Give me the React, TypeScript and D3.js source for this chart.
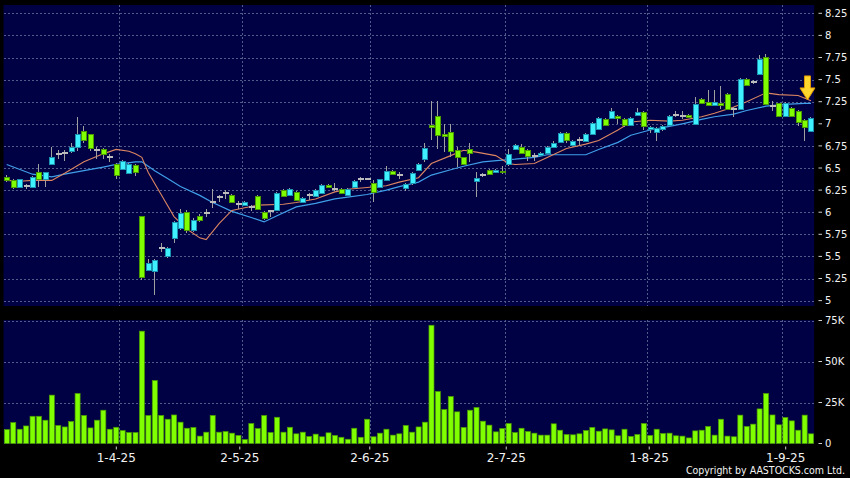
import React from "react";
import * as d3 from "d3";

// daily candles, 6 Mar 2025 .. 5 Sep 2025 (126 sessions)
const opens = [
  6.40, 6.36, 6.29, 6.30, 6.29, 6.45, 6.37, 6.55, 6.66, 6.67, 6.69, 6.74, 6.92, 6.88, 6.70, 6.72, 6.62, 6.55, 6.49, 6.44,
  6.53, 5.96, 5.35, 5.34, 5.60, 5.51, 5.71, 5.82, 6.00, 5.80, 5.96, 5.99, 6.11, 6.17, 6.22, 6.20, 6.09, 6.08, 6.06, 6.18,
  6.00, 6.01, 6.03, 6.25, 6.19, 6.23, 6.12, 6.19, 6.18, 6.22, 6.31, 6.26, 6.26, 6.19, 6.29, 6.38, 6.38, 6.33, 6.28, 6.36,
  6.47, 6.42, 6.27, 6.33, 6.48, 6.60, 6.99, 7.09, 6.88, 6.91, 6.70, 6.62, 6.72, 6.35, 6.42, 6.48, 6.45, 6.47, 6.54, 6.72,
  6.74, 6.70, 6.64, 6.65, 6.67, 6.74, 6.79, 6.90, 6.76, 6.82, 6.81, 6.89, 6.94, 7.05, 7.07, 7.09, 7.05, 6.99, 7.10, 7.13,
  6.94, 6.91, 6.94, 6.99, 7.10, 7.09, 7.10, 7.00, 7.28, 7.25, 7.21, 7.23, 7.34, 7.17, 7.17, 7.51, 7.47, 7.56, 7.76, 7.20,
  7.23, 7.09, 7.18, 7.15, 7.04, 6.92,
];
const highs = [
  6.42, 6.38, 6.38, 6.32, 6.41, 6.55, 6.46, 6.74, 6.70, 6.70, 6.78, 7.08, 6.98, 6.89, 6.74, 6.73, 6.66, 6.56, 6.59, 6.56,
  6.54, 5.96, 5.47, 5.47, 5.65, 5.61, 5.90, 6.04, 6.03, 5.93, 5.98, 6.04, 6.26, 6.20, 6.25, 6.21, 6.13, 6.13, 6.08, 6.19,
  6.01, 6.02, 6.23, 6.26, 6.27, 6.24, 6.17, 6.22, 6.26, 6.32, 6.32, 6.33, 6.27, 6.27, 6.36, 6.40, 6.39, 6.36, 6.38, 6.52,
  6.48, 6.46, 6.33, 6.45, 6.56, 6.78, 7.26, 7.26, 7.00, 7.00, 6.74, 6.63, 6.78, 6.46, 6.44, 6.49, 6.49, 6.52, 6.71, 6.77,
  6.77, 6.71, 6.67, 6.68, 6.75, 6.80, 6.91, 6.91, 6.82, 6.85, 6.90, 7.02, 7.08, 7.06, 7.18, 7.10, 7.06, 7.08, 7.18, 7.14,
  6.97, 6.96, 6.99, 7.10, 7.15, 7.15, 7.11, 7.30, 7.29, 7.38, 7.38, 7.43, 7.35, 7.19, 7.52, 7.52, 7.49, 7.78, 7.79, 7.26,
  7.24, 7.25, 7.19, 7.16, 7.05, 7.08,
];
const lows = [
  6.34, 6.26, 6.27, 6.26, 6.28, 6.29, 6.29, 6.54, 6.60, 6.58, 6.67, 6.69, 6.78, 6.69, 6.60, 6.60, 6.57, 6.38, 6.48, 6.43,
  6.41, 5.23, 5.33, 5.06, 5.55, 5.48, 5.65, 5.80, 5.76, 5.78, 5.89, 5.95, 6.05, 6.12, 6.15, 6.10, 6.04, 6.07, 6.01, 6.03,
  5.91, 5.95, 6.02, 6.17, 6.18, 6.13, 6.11, 6.14, 6.17, 6.21, 6.28, 6.24, 6.21, 6.18, 6.28, 6.34, 6.36, 6.11, 6.27, 6.35,
  6.42, 6.38, 6.24, 6.31, 6.47, 6.57, 6.82, 6.72, 6.68, 6.62, 6.51, 6.53, 6.57, 6.17, 6.40, 6.42, 6.44, 6.43, 6.52, 6.71,
  6.66, 6.58, 6.58, 6.64, 6.66, 6.73, 6.78, 6.78, 6.75, 6.76, 6.80, 6.88, 6.93, 6.98, 7.06, 7.00, 6.96, 6.98, 7.09, 6.93,
  6.90, 6.80, 6.92, 6.98, 7.08, 7.05, 7.06, 6.99, 7.22, 7.20, 7.20, 7.17, 7.16, 7.08, 7.16, 7.43, 7.45, 7.55, 7.21, 7.14,
  7.08, 7.08, 7.08, 6.98, 6.81, 6.91,
];
const closes = [
  6.36, 6.28, 6.37, 6.30, 6.40, 6.37, 6.45, 6.62, 6.66, 6.67, 6.74, 6.88, 6.82, 6.73, 6.70, 6.66, 6.62, 6.42, 6.58, 6.55,
  6.46, 5.27, 5.43, 5.46, 5.60, 5.59, 5.89, 5.99, 5.80, 5.91, 5.91, 5.99, 6.11, 6.17, 6.22, 6.11, 6.09, 6.12, 6.06, 6.04,
  5.94, 6.01, 6.22, 6.18, 6.26, 6.14, 6.16, 6.19, 6.25, 6.31, 6.29, 6.26, 6.22, 6.26, 6.35, 6.38, 6.38, 6.23, 6.37, 6.47,
  6.43, 6.42, 6.32, 6.44, 6.55, 6.73, 6.96, 6.87, 6.86, 6.69, 6.62, 6.55, 6.67, 6.39, 6.42, 6.43, 6.48, 6.45, 6.66, 6.76,
  6.67, 6.64, 6.64, 6.67, 6.74, 6.78, 6.90, 6.82, 6.81, 6.82, 6.89, 7.01, 7.07, 6.99, 7.14, 7.06, 6.99, 7.07, 7.13, 6.98,
  6.96, 6.95, 6.98, 7.09, 7.10, 7.09, 7.08, 7.22, 7.23, 7.21, 7.25, 7.21, 7.17, 7.17, 7.51, 7.44, 7.47, 7.73, 7.22, 7.20,
  7.09, 7.24, 7.09, 7.02, 6.96, 7.07,
];
// volume, thousands of shares
const volumesK = [
  8.5, 12.8, 8.7, 10.7, 16.6, 16.6, 14.2, 29.5, 11.0, 10.1, 13.4, 30.5, 17.1, 9.5, 14.2, 20.3, 8.7, 9.9, 7.9, 6.7,
  6.7, 68.5, 17.1, 38.4, 17.1, 14.8, 17.4, 13.0, 9.3, 9.8, 4.5, 6.9, 17.1, 6.9, 7.3, 6.3, 4.9, 2.4, 12.2, 9.1,
  17.1, 6.7, 16.0, 6.9, 9.9, 5.9, 6.9, 4.3, 5.7, 4.1, 6.5, 4.9, 3.8, 2.6, 9.3, 3.8, 14.8, 4.1, 6.3, 8.7,
  5.1, 5.9, 11.0, 6.9, 10.1, 13.0, 72.1, 31.7, 20.7, 28.7, 19.3, 9.8, 20.3, 22.0, 13.6, 11.2, 7.1, 9.1, 12.2, 6.7,
  9.3, 7.3, 6.3, 5.1, 5.1, 12.0, 8.1, 5.5, 5.3, 5.9, 7.9, 9.8, 7.5, 8.9, 8.3, 4.7, 8.7, 4.3, 5.5, 12.2,
  4.9, 8.7, 6.1, 6.3, 4.7, 4.5, 3.4, 7.7, 8.1, 10.4, 5.1, 14.8, 4.5, 4.1, 17.3, 10.4, 11.8, 21.1, 30.5, 17.4,
  11.4, 15.9, 13.8, 8.1, 17.3, 5.9,
];
// moving averages: [session index, price]
const maShort: [number, number][] = [
  [0, 6.36], [2, 6.35], [4, 6.36], [7, 6.36], [9, 6.44], [12, 6.57], [15, 6.66], [17, 6.71], [19, 6.69], [20, 6.66],
  [21, 6.62], [22, 6.45], [24, 6.2], [26, 5.95], [28, 5.81], [30, 5.71], [31, 5.69], [33, 5.87], [35, 6.02], [37, 6.05],
  [39, 6.08], [43, 6.09], [45, 6.11], [48, 6.15], [51, 6.23], [53, 6.26], [56, 6.28], [59, 6.3], [61, 6.34], [64, 6.39],
  [66, 6.55], [69, 6.64], [71, 6.7], [73, 6.68], [76, 6.64], [78, 6.55], [79, 6.54], [82, 6.55], [84, 6.62], [87, 6.72],
  [90, 6.77], [92, 6.81], [95, 6.93], [97, 7.02], [100, 7.04], [103, 7.03], [105, 7.04], [108, 7.08], [110, 7.12],
  [113, 7.19], [115, 7.25], [118, 7.35], [120, 7.33], [123, 7.32], [125, 7.26],
];
const maLong: [number, number][] = [
  [0, 6.54], [4, 6.43], [7, 6.4], [9, 6.43], [12, 6.47], [15, 6.51], [17, 6.54], [20, 6.57], [21, 6.57], [23, 6.47],
  [25, 6.38], [27, 6.29], [30, 6.19], [32, 6.11], [35, 6.01], [38, 5.94], [40, 5.89], [42, 5.96], [45, 6.06], [48, 6.1],
  [51, 6.15], [53, 6.17], [56, 6.2], [59, 6.25], [61, 6.29], [64, 6.34], [66, 6.42], [69, 6.48], [71, 6.52], [74, 6.57],
  [77, 6.59], [79, 6.6], [82, 6.62], [84, 6.65], [87, 6.65], [90, 6.65], [92, 6.71], [95, 6.79], [97, 6.87], [100, 6.93],
  [103, 6.97], [105, 7.0], [108, 7.05], [110, 7.08], [113, 7.11], [115, 7.15], [118, 7.2], [121, 7.22], [124, 7.23],
  [125, 7.23],
];

const priceTicks = [8.25, 8, 7.75, 7.5, 7.25, 7, 6.75, 6.5, 6.25, 6, 5.75, 5.5, 5.25, 5];
const volTicks = [0, 25, 50, 75];
const monthStarts = [18, 37, 57, 78, 100, 121];
const monthLabels = ["1-4-25", "2-5-25", "2-6-25", "2-7-25", "1-8-25", "1-9-25"];
const arrowPrice = 7.27;

const W = 850;
const H = 478;
const PLOT = { left: 3.5, right: 814.2 };
const PRICE = { top: 5, bottom: 306 };
const VOL = { top: 320, bottom: 444 };

const NAVY = "#000044";
const GRID = "#505c8a";
const UP = { fill: "#3ff0ff", stroke: "#1a92b0" };
const DOWN = { fill: "#80ff00", stroke: "#4a9a00" };
const DOJI = "#bcbcbc";
const WICK = "#a0a0a0";

export default function App() {
  const n = opens.length;
  const x = d3.scaleBand<number>().domain(d3.range(n)).range([PLOT.left, PLOT.right]).padding(0);
  const bw = x.bandwidth();
  const cx = (i: number) => x(i)! + bw / 2;

  const y = d3.scaleLinear().domain([5, 8.25]).range([300.6, 13.3]);
  const yv = d3.scaleLinear().domain([0, 75]).range([443.5, 320.5]);
  // the date ticks drift a little against the grid in the original
  const tickX = d3.scaleLinear().domain([monthStarts[0], monthStarts[monthStarts.length - 1]]).range([116.3, 785.7]);

  const line = d3
    .line<[number, number]>()
    .x((d) => cx(d[0]))
    .y((d) => y(d[1]));

  const axisText = { fill: "#f2f2f2", fontFamily: "DejaVu Sans, Verdana, sans-serif" };

  // arrow above the last session
  const ax = cx(n - 1) - 3.5;
  const tip = y(arrowPrice);
  const arrowPath = d3.path();
  arrowPath.moveTo(ax - 3, tip - 24);
  arrowPath.lineTo(ax + 3, tip - 24);
  arrowPath.lineTo(ax + 3, tip - 12);
  arrowPath.lineTo(ax + 7.5, tip - 12);
  arrowPath.lineTo(ax, tip);
  arrowPath.lineTo(ax - 7.5, tip - 12);
  arrowPath.lineTo(ax - 3, tip - 12);
  arrowPath.closePath();

  return (
    <svg
      width={W}
      height={H}
      viewBox={`0 0 ${W} ${H}`}
      style={{ position: "absolute", left: 0, top: 0, background: "#000", display: "block" }}
    >
      <rect x={0} y={0} width={W} height={H} fill="#000" />

      {/* panels */}
      <rect x={PLOT.left} y={PRICE.top} width={PLOT.right - PLOT.left} height={PRICE.bottom - PRICE.top} fill={NAVY} />
      <rect x={PLOT.left} y={VOL.top} width={PLOT.right - PLOT.left} height={VOL.bottom - VOL.top} fill={NAVY} />

      {/* grid */}
      <g stroke={GRID} strokeWidth={1} strokeDasharray="2 2" shapeRendering="crispEdges">
        {priceTicks.map((t) => (
          <line key={"pg" + t} x1={PLOT.left} x2={PLOT.right} y1={Math.round(y(t)) + 0.5} y2={Math.round(y(t)) + 0.5} />
        ))}
        {volTicks.slice(1).map((t) => (
          <line key={"vg" + t} x1={PLOT.left} x2={PLOT.right} y1={Math.round(yv(t)) + 0.5} y2={Math.round(yv(t)) + 0.5} />
        ))}
        {monthStarts.map((m) => (
          <g key={"mg" + m}>
            <line x1={Math.round(x(m)!) + 0.5} x2={Math.round(x(m)!) + 0.5} y1={PRICE.top} y2={PRICE.bottom} />
            <line x1={Math.round(x(m)!) + 0.5} x2={Math.round(x(m)!) + 0.5} y1={VOL.top} y2={VOL.bottom} />
          </g>
        ))}
      </g>

      {/* volume */}
      <g>
        {volumesK.map((v, i) => (
          <rect
            key={"v" + i}
            x={x(i)! + 0.8}
            y={yv(v)}
            width={bw - 1.4}
            height={yv(0) - yv(v)}
            fill={DOWN.fill}
            stroke={DOWN.stroke}
            strokeWidth={0.7}
          />
        ))}
      </g>

      {/* moving averages */}
      <path d={line(maLong)!} fill="none" stroke="#3f9fe8" strokeWidth={1.2} />
      <path d={line(maShort)!} fill="none" stroke="#dc8662" strokeWidth={1.1} />

      {/* candles */}
      <g shapeRendering="crispEdges">
        {opens.map((o, i) => {
          const c = closes[i];
          const x0 = Math.round(cx(i) - 2.5);
          const mid = x0 + 2.5;
          const top = Math.round(y(Math.max(o, c)));
          const bot = Math.round(y(Math.min(o, c)));
          const wick = (
            <line x1={mid} x2={mid} y1={Math.round(y(highs[i]))} y2={Math.round(y(lows[i]))} stroke={WICK} strokeWidth={1} />
          );
          if (c === o) {
            return (
              <g key={"c" + i}>
                {wick}
                <rect x={x0} y={top - 1} width={6} height={2} fill={DOJI} />
              </g>
            );
          }
          const col = c > o ? UP : DOWN;
          return (
            <g key={"c" + i}>
              {wick}
              <rect
                x={x0 + 0.5}
                y={top + 0.5}
                width={5}
                height={Math.max(bot - top, 1)}
                fill={col.fill}
                stroke={col.stroke}
                strokeWidth={1}
              />
            </g>
          );
        })}
      </g>

      {/* marker arrow */}
      <path d={arrowPath.toString()} fill="#ffd62e" stroke="#e09a00" strokeWidth={1} strokeLinejoin="round" />

      {/* right axis, price */}
      <g>
        {priceTicks.map((t) => (
          <g key={"pt" + t}>
            <line x1={818.5} x2={822} y1={y(t)} y2={y(t)} stroke="#cfcfcf" strokeWidth={1} />
            <text x={825} y={y(t)} dy="0.36em" fontSize={10} {...axisText}>
              {String(t)}
            </text>
          </g>
        ))}
        {volTicks.map((t) => (
          <g key={"vt" + t}>
            <line x1={818.5} x2={822} y1={yv(t)} y2={yv(t)} stroke="#cfcfcf" strokeWidth={1} />
            <text x={825} y={yv(t)} dy="0.36em" fontSize={10} {...axisText}>
              {t === 0 ? "0" : `${t}K`}
            </text>
          </g>
        ))}
      </g>

      {/* date axis */}
      <g>
        {monthStarts.map((m, k) => (
          <g key={"dl" + m}>
            <line x1={tickX(m)} x2={tickX(m)} y1={446.5} y2={449.5} stroke="#cfcfcf" strokeWidth={1} />
            <text x={tickX(m)} y={461.7} textAnchor="middle" fontSize={12} {...axisText}>
              {monthLabels[k]}
            </text>
          </g>
        ))}
      </g>

      <text
        x={845}
        y={474}
        textAnchor="end"
        fontSize={10.5}
        fill="#f2f2f2"
        fontFamily="DejaVu Sans Condensed, DejaVu Sans, sans-serif"
      >
        Copyright by AASTOCKS.com Ltd.
      </text>
    </svg>
  );
}
